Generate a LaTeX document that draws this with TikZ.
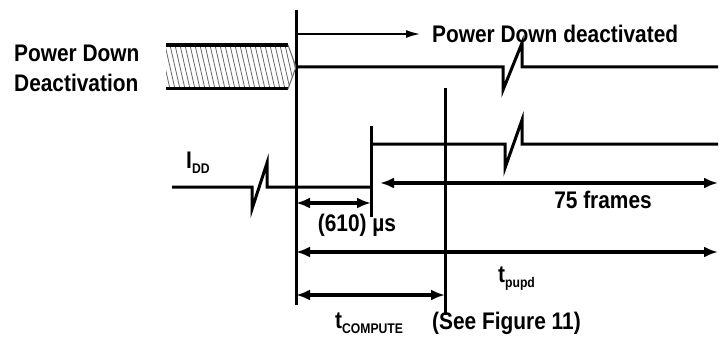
\documentclass[tikz,border=0pt]{standalone}
\usepackage{fontspec}
\setmainfont{Liberation Sans}[FakeStretch=0.87]
\usetikzlibrary{arrows.meta}

\tikzset{
  sig/.style={line width=3pt, line join=miter},
  vline/.style={line width=3pt},
  dim/.style={line width=3.2pt, {Latex[length=14pt,width=11pt]}-{Latex[length=14pt,width=11pt]}},
  lbl/.style={inner sep=0pt, font=\fontsize{24}{27}\bfseries\selectfont},
}
\newcommand{\lowsub}[1]{{\fontsize{14}{14}\selectfont\raisebox{-5pt}{#1}}}

\begin{document}
\begin{tikzpicture}[x=1pt, y=-1pt]
	\useasboundingbox (0,0) rectangle (719,342);
	% time marks
	\coordinate (v0) at (296,0);
	\coordinate (v1) at (371,0);
	\coordinate (v2) at (445,0);
	\coordinate (vR) at (718,0);
	\draw[vline] (v0 |- 0,10) -- (v0 |- 0,305);
	\draw[vline] (v1 |- 0,126) -- (v1 |- 0,217);
	\draw[vline] (v2 |- 0,88) -- (v2 |- 0,315);
	
	% power down input
	\begin{scope}
		\clip (166,45) -- (288,45) -- (296,67) -- (288,89) -- (166,89) -- cycle;
		\foreach \x in {150,155,...,300}
			\draw[black!60, line width=0.8pt] (\x,45) -- (\x+10,89);
	\end{scope}
	\draw[line width=4pt] (166,45) -- (288,45);
	\draw[line width=3pt] (166,89) -- (288,89);
	\draw[black!60, line width=1pt] (288,45) -- (296,67) -- (288,89);
	\draw[sig] (v0 |- 0,67) -- (503,67) -- (503,90) -- (522,43) -- (522,67) -- (vR |- 0,67);
	\draw[line width=1.5pt, -{Latex[length=14pt,width=8pt]}] (v0 |- 0,34) -- (420,34);
	
	% supply current
	\draw[sig] (172,187) -- (252,187) -- (252,209) -- (267,163) -- (267,187) -- (v1 |- 0,187);
	\draw[sig] (v1 |- 0,144) -- (505,144) -- (505,168) -- (522,120) -- (522,144) -- (vR |- 0,144);
	
	% intervals
	\draw[dim] (380,183) -- (vR |- 0,183);
	\draw[dim] (v0 |- 0,203) -- (v1 |- 0,203);
	\draw[dim] (v0 |- 0,252) -- (vR |- 0,252);
	\draw[dim] (v0 |- 0,295) -- (v2 |- 0,295);
	
	% labels
	\node[lbl, anchor=base west] (pdl1) at (14,62) {Power Down};
	\node[lbl, anchor=base west] (pdl2) at (14,92) {Deactivation};
	\node[lbl, anchor=base west] (pdoff) at (432,43) {Power Down deactivated};
	\node[lbl, anchor=base west] (idd) at (186,168) {I\lowsub{DD}};
	\node[lbl, anchor=base] (frames) at (603,208) {75 frames};
	\node[lbl, anchor=base] (wait) at (357,231) {(610) µs};
	\node[lbl, anchor=base west] (pupd) at (498,282) {t\lowsub{pupd}};
	\node[lbl, anchor=base west] (comp) at (335,328) {t\lowsub{COMPUTE}};
	\node[lbl, anchor=base west] (seefig) at (432,329) {(See Figure 11)};
	
\end{tikzpicture}
\end{document}
